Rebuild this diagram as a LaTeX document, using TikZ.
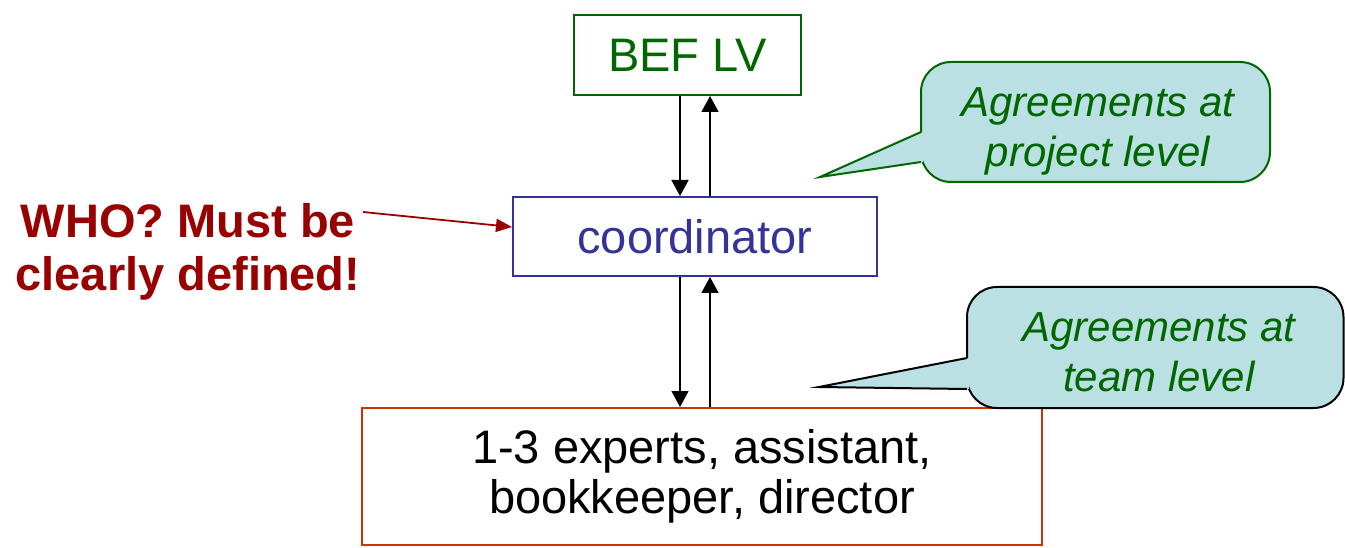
\documentclass[tikz,border=0pt]{standalone}
\usepackage{fontspec}
\setmainfont{Liberation Sans}
\usetikzlibrary{arrows.meta}
\definecolor{dgreen}{HTML}{006600}
\definecolor{dblue}{HTML}{333399}
\definecolor{boxred}{HTML}{CC3300}
\definecolor{dred}{HTML}{990000}
\definecolor{callfill}{HTML}{BBE0E3}
\tikzset{
  box/.style={draw, line width=2pt, inner sep=0pt, align=center},
  flow/.style={line width=1.6pt, -{Triangle[width=17pt,length=16pt]}},
  calltext/.style={text=dgreen, font=\fontsize{42}{50}\selectfont\itshape, align=center, inner sep=0pt},
  callshape/.style={fill=callfill, line width=2pt, rounded corners=30pt},
}
\begin{document}
\begin{tikzpicture}[x=1pt,y=-1pt]
\useasboundingbox (0,0) rectangle (1345,548);
% boxes
\node[box, draw=dgreen, text=dgreen, minimum width=227pt, minimum height=80pt,
      font=\fontsize{47}{50}\selectfont] (bef) at (687.5,55) {BEF LV};
\node[box, draw=dblue, text=dblue, minimum width=364pt, minimum height=79pt,
      font=\fontsize{47}{50}\selectfont] (coord) at (695,236.5) {coordinator};
\node[box, draw=boxred, text=black, minimum width=680pt, minimum height=137pt,
      font=\fontsize{47}{50}\selectfont] (team) at (702,476.5) {1-3 experts, assistant,\\bookkeeper, director};
% vertical arrows
\coordinate (c1) at (680,0);
\coordinate (c2) at (710,0);
\draw[flow] (bef.south -| c1) -- (coord.north -| c1);
\draw[flow] (coord.north -| c2) -- (bef.south -| c2);
\draw[flow] (coord.south -| c1) -- (team.north -| c1);
\draw[flow] (team.north -| c2) -- (coord.south -| c2);
% WHO text
\node[text=dred, font=\fontsize{47}{53}\selectfont\bfseries, align=center, inner sep=0pt]
  (who) at (188,251.5) {WHO? Must be\\clearly defined!};
\coordinate (whoarr) at (363,212);
\draw[draw=dred, line width=1.8pt, -{Triangle[width=13pt,length=16pt]}, dred] (whoarr) -- (coord.west |- 0,227);
% callout 1
\coordinate (tip1) at (820,177);
\draw[callshape, draw=dgreen] (921,62) rectangle (1270,182);
\fill[callfill] (tip1) -- (923,132) -- (923,162) -- cycle;
\draw[draw=dgreen, line width=2pt, line join=miter] (921,132) -- (tip1) -- (921,162);
\node[calltext] (call1) at (1098,131) {Agreements at\\project level};
% callout 2
\coordinate (tip2) at (819,387);
\draw[callshape, draw=black] (967,287) rectangle (1343.5,408);
\fill[callfill] (tip2) -- (969,358) -- (969,389) -- cycle;
\draw[draw=black, line width=2pt, line join=miter] (967,358) -- (tip2) -- (967,389);
\node[calltext] (call2) at (1159,352.5) {Agreements at\\team level};
\end{tikzpicture}
\end{document}
